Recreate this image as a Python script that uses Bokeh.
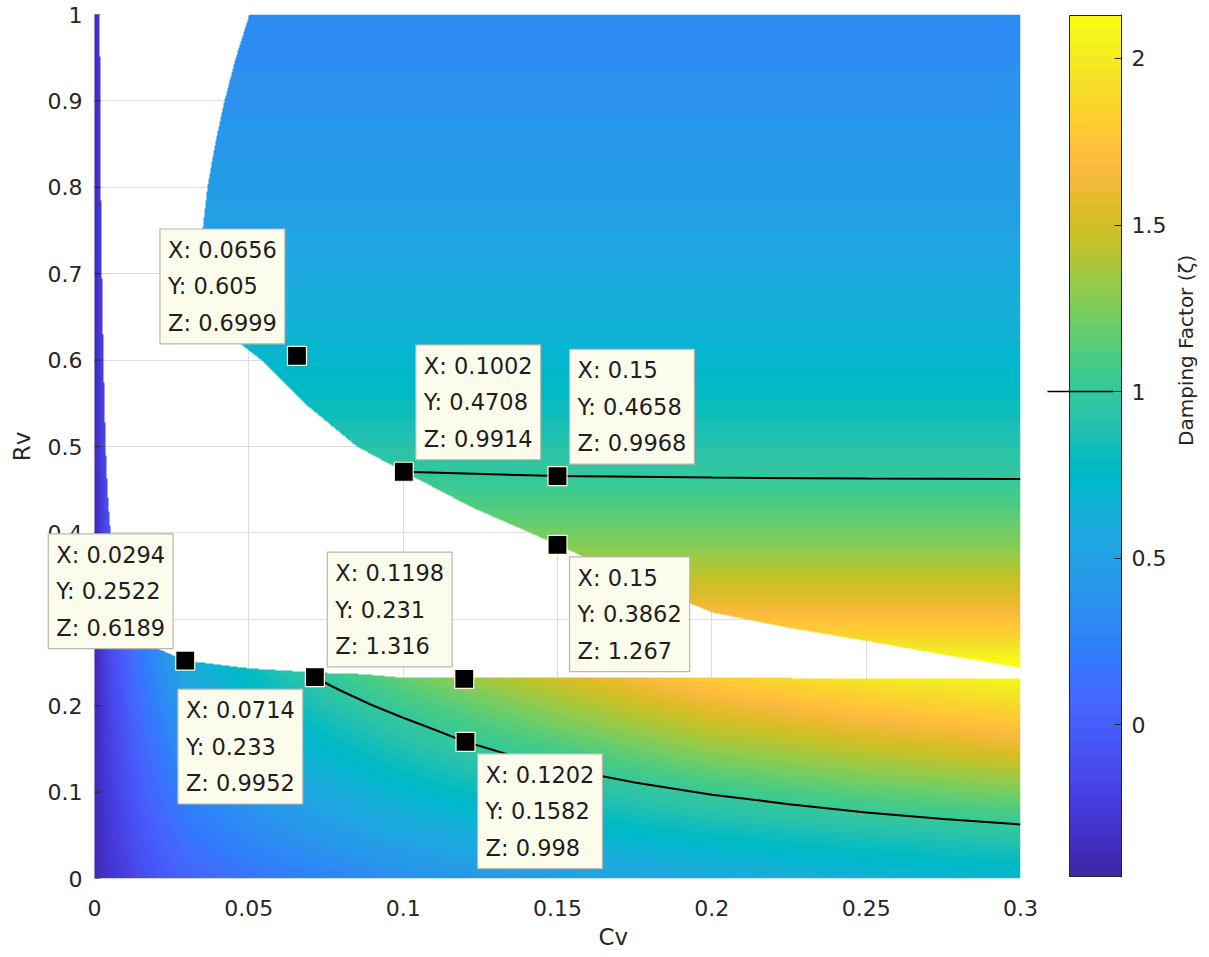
import math
import numpy as np
from bokeh.plotting import figure
from bokeh.layouts import row
from bokeh.models import LinearColorMapper, Range1d, FixedTicker, Label, Title
from bokeh.embed import file_html
from bokeh.resources import INLINE

# ---------------- data ----------------
# upper surface: left/lower boundary Cv as a function of Rv
ub_rv = [0.244, 0.259, 0.275, 0.29, 0.308, 0.345, 0.3862, 0.43, 0.4708, 0.50, 0.55, 0.60, 0.617, 0.64, 0.67, 0.70, 0.75, 0.80, 0.85, 0.90, 0.95, 1.00]
ub_cv = [0.300, 0.275, 0.250, 0.225, 0.200, 0.175, 0.1500, 0.122, 0.1002, 0.085, 0.068, 0.054, 0.048, 0.040, 0.0341, 0.0340, 0.0350, 0.0366, 0.0391, 0.0421, 0.0458, 0.0502]
# upper surface: damping factor vs Rv
up_rv = [0.244, 0.28, 0.32, 0.3862, 0.4658, 0.53, 0.605, 0.70, 0.80, 0.90, 1.00]
up_z = [2.17, 1.86, 1.59, 1.267, 0.997, 0.84, 0.70, 0.57, 0.46, 0.38, 0.31]

# lower surface: upper boundary Rv as a function of Cv
lb_cv = [0.0, 0.0017, 0.0020, 0.0023, 0.0029, 0.0036, 0.0042, 0.0052, 0.008, 0.012, 0.018, 0.0294, 0.0506, 0.0743, 0.087, 0.1, 0.3]
lb_rv = [1.0, 1.0, 0.82, 0.72, 0.60, 0.50, 0.45, 0.40, 0.35, 0.30, 0.27, 0.2522, 0.243, 0.238, 0.2365, 0.2325, 0.2318]
# lower surface: damping factor on a grid (rows = Rv, cols = Cv)
low_cv = [0.0, 0.005, 0.015, 0.03, 0.05, 0.075, 0.1, 0.12, 0.15, 0.2, 0.25, 0.3]
low_rv = [0.0, 0.05, 0.10, 0.15, 0.20, 0.25, 0.30, 0.40, 1.00]
z_rv000 = [-0.40, -0.30, -0.12, 0.05, 0.16, 0.27, 0.36, 0.42, 0.48, 0.57, 0.64, 0.70]
z_rv005 = [-0.40, -0.27, -0.06, 0.16, 0.30, 0.44, 0.54, 0.61, 0.68, 0.79, 0.87, 0.94]
z_rv010 = [-0.40, -0.24, 0.00, 0.27, 0.43, 0.59, 0.71, 0.79, 0.88, 1.03, 1.15, 1.24]
z_rv015 = [-0.40, -0.21, 0.06, 0.38, 0.56, 0.74, 0.88, 0.97, 1.09, 1.31, 1.45, 1.57]
z_rv020 = [-0.40, -0.18, 0.12, 0.49, 0.69, 0.89, 1.05, 1.16, 1.33, 1.60, 1.77, 1.89]
z_rv025 = [-0.40, -0.15, 0.18, 0.60, 0.82, 1.05, 1.24, 1.41, 1.60, 1.93, 2.10, 2.20]
z_rv030 = [-0.40, -0.12, 0.24, 0.70, 0.95, 1.20, 1.40, 1.60, 1.85, 2.10, 2.20, 2.20]
z_rv040 = [-0.40, -0.06, 0.36, 0.85, 1.10, 1.40, 1.70, 1.90, 2.10, 2.20, 2.20, 2.20]
z_rv100 = [-0.40, 0.00, 0.60, 1.00, 1.40, 1.80, 2.10, 2.20, 2.20, 2.20, 2.20, 2.20]

# Z = 1 contour lines
cu_cv = [0.1002, 0.15, 0.2, 0.25, 0.3]
cu_rv = [0.4708, 0.4658, 0.4640, 0.4630, 0.4625]
cl_cv = [0.0714, 0.075, 0.08, 0.09, 0.1, 0.11, 0.1202, 0.135, 0.15, 0.175, 0.2, 0.225, 0.25, 0.275, 0.3]
cl_rv = [0.233, 0.226, 0.217, 0.2005, 0.186, 0.1725, 0.1582, 0.1425, 0.1285, 0.111, 0.097, 0.086, 0.0765, 0.069, 0.0625]
contour_level = 1.0

# data tips
tip_x = [0.0656, 0.1002, 0.15, 0.15, 0.0294, 0.1198, 0.0714, 0.1202]
tip_y = [0.605, 0.4708, 0.4658, 0.3862, 0.2522, 0.231, 0.233, 0.1582]
tip_z = [0.6999, 0.9914, 0.9968, 1.267, 0.6189, 1.316, 0.9952, 0.998]
tip_side = ["ul", "ur", "ur", "lr", "ul", "ul", "ll", "lr"]

x_ticks = [0, 0.05, 0.1, 0.15, 0.2, 0.25, 0.3]
x_labels = ["0", "0.05", "0.1", "0.15", "0.2", "0.25", "0.3"]
y_ticks = [0, 0.1, 0.2, 0.3, 0.4, 0.5, 0.6, 0.7, 0.8, 0.9, 1]
y_labels = ["0", "0.1", "0.2", "0.3", "0.4", "0.5", "0.6", "0.7", "0.8", "0.9", "1"]
cb_ticks = [0, 0.5, 1, 1.5, 2]
cb_labels = ["0", "0.5", "1", "1.5", "2"]
c_low, c_high = -0.456, 2.129

# ---------------- colormap (parula, 64) ----------------
PARULA_RGB = [
    (0.2422, 0.1504, 0.6603), (0.2504, 0.1650, 0.7076), (0.2578, 0.1818, 0.7511), (0.2647, 0.1978, 0.7952),
    (0.2706, 0.2147, 0.8364), (0.2751, 0.2342, 0.8710), (0.2783, 0.2559, 0.8991), (0.2803, 0.2782, 0.9221),
    (0.2813, 0.3006, 0.9414), (0.2810, 0.3228, 0.9579), (0.2795, 0.3447, 0.9717), (0.2760, 0.3667, 0.9829),
    (0.2699, 0.3892, 0.9906), (0.2602, 0.4123, 0.9952), (0.2440, 0.4358, 0.9988), (0.2206, 0.4603, 0.9973),
    (0.1963, 0.4847, 0.9892), (0.1834, 0.5074, 0.9798), (0.1786, 0.5289, 0.9682), (0.1764, 0.5499, 0.9520),
    (0.1687, 0.5703, 0.9359), (0.1540, 0.5902, 0.9218), (0.1460, 0.6091, 0.9079), (0.1380, 0.6276, 0.8973),
    (0.1248, 0.6459, 0.8883), (0.1113, 0.6635, 0.8763), (0.0952, 0.6798, 0.8598), (0.0689, 0.6948, 0.8394),
    (0.0297, 0.7082, 0.8163), (0.0036, 0.7203, 0.7917), (0.0067, 0.7312, 0.7660), (0.0433, 0.7411, 0.7394),
    (0.0964, 0.7500, 0.7120), (0.1408, 0.7584, 0.6842), (0.1717, 0.7670, 0.6554), (0.1938, 0.7758, 0.6251),
    (0.2161, 0.7843, 0.5923), (0.2470, 0.7918, 0.5567), (0.2906, 0.7973, 0.5188), (0.3406, 0.8008, 0.4789),
    (0.3909, 0.8029, 0.4354), (0.4456, 0.8024, 0.3909), (0.5044, 0.7993, 0.3480), (0.5616, 0.7942, 0.3045),
    (0.6174, 0.7876, 0.2612), (0.6720, 0.7793, 0.2227), (0.7242, 0.7698, 0.1910), (0.7738, 0.7598, 0.1646),
    (0.8203, 0.7498, 0.1535), (0.8634, 0.7406, 0.1596), (0.9035, 0.7330, 0.1774), (0.9393, 0.7288, 0.2100),
    (0.9728, 0.7298, 0.2394), (0.9956, 0.7434, 0.2371), (0.9970, 0.7659, 0.2199), (0.9952, 0.7893, 0.2028),
    (0.9892, 0.8136, 0.1885), (0.9786, 0.8386, 0.1766), (0.9676, 0.8639, 0.1643), (0.9610, 0.8890, 0.1537),
    (0.9597, 0.9135, 0.1423), (0.9628, 0.9373, 0.1265), (0.9691, 0.9606, 0.1064), (0.9769, 0.9839, 0.0805),
]
PARULA = ["#%02x%02x%02x" % tuple(int(round(c * 255)) for c in rgb) for rgb in PARULA_RGB]
mapper = LinearColorMapper(palette=PARULA, low=c_low, high=c_high, nan_color=(0, 0, 0, 0))

# ---------------- build the surface image ----------------
NX, NY = 926, 864
cv = (np.arange(NX) + 0.5) / NX * x_ticks[-1]
rv = (np.arange(NY) + 0.5) / NY * y_ticks[-1]
CV, RV = np.meshgrid(cv, rv)
Z = np.full((NY, NX), np.nan, dtype=np.float32)

low_table = np.array([z_rv000, z_rv005, z_rv010, z_rv015, z_rv020, z_rv025, z_rv030, z_rv040, z_rv100])
rows_on_cv = np.array([np.interp(cv, low_cv, r) for r in low_table])
z_low = np.array([np.interp(rv, low_rv, rows_on_cv[:, j]) for j in range(NX)]).T
rv_top = np.interp(cv, lb_cv, lb_rv)
mask_low = RV <= rv_top[None, :]
Z[mask_low] = z_low[mask_low]

cv_left = np.interp(rv, ub_rv, ub_cv)
z_up = np.interp(rv, up_rv, up_z)
mask_up = (RV >= ub_rv[0]) & (CV >= cv_left[:, None])
Z[mask_up] = np.broadcast_to(z_up[:, None], Z.shape)[mask_up]

FONT = "DejaVu Sans"
TXT = "#262626"

# frame starts 49 px left of Cv = 0 so that a data tip can extend over the tick labels
PX_PER_CV = 926 / 0.3
EXTRA = 49
x_start = -EXTRA / PX_PER_CV

p = figure(frame_width=926 + EXTRA, frame_height=864, x_range=Range1d(x_start, 0.3), y_range=Range1d(0, 1),
           output_backend="svg", toolbar_location=None,
           min_border_left=94 - EXTRA, min_border_right=20, min_border_top=14, min_border_bottom=79)
p.background_fill_color = "white"
p.border_fill_color = "white"
p.outline_line_color = None

# white margin inside the frame, left of Cv = 0 (hides grid lines there)
p.quad(left=x_start, right=0, bottom=0, top=1, fill_color="white", line_color=None)
p.image(image=[Z], x=0, y=0, dw=0.3, dh=1.0, color_mapper=mapper)
# inward y tick marks at Cv = 0
p.ray(x=[0] * len(y_ticks), y=y_ticks, length=6, length_units="screen", angle=0, line_color=TXT, line_width=1)

p.line(cu_cv, cu_rv, line_color="black", line_width=2)
p.line(cl_cv, cl_rv, line_color="black", line_width=2)

p.scatter(tip_x, tip_y, marker="square", size=19, fill_color="black", line_color="#fffbd8", line_width=1.2)

p.grid.grid_line_color = "#dedede"
p.grid.grid_line_width = 1
p.xaxis.ticker = FixedTicker(ticks=x_ticks)
p.yaxis.ticker = FixedTicker(ticks=y_ticks)
p.xaxis.major_label_overrides = dict(zip(x_ticks, x_labels))
p.yaxis.major_label_overrides = dict(zip(y_ticks, y_labels))
p.axis.axis_line_color = None
p.axis.minor_tick_line_color = None
p.axis.major_tick_in = 0
p.axis.major_tick_out = 0
p.axis.major_label_text_font = FONT
p.axis.major_label_text_font_size = "22px"
p.axis.major_label_text_color = TXT
p.axis.axis_label_text_font = FONT
p.axis.axis_label_text_font_size = "23px"
p.axis.axis_label_text_font_style = "normal"
p.axis.axis_label_text_color = TXT
p.yaxis.axis_label = "Rv"
p.xaxis.major_label_standoff = 21
p.yaxis.major_label_standoff = -(EXTRA - 12)
p.yaxis.axis_label_standoff = 10
p.add_layout(Title(text="Cv", align="left", offset=598 - (94 - EXTRA), standoff=6,
                   text_font=FONT, text_font_size="23px", text_font_style="normal",
                   text_color=TXT), "below")

# data tips
GAP = 12
BOXW = 125
for x, y, z, side in zip(tip_x, tip_y, tip_z, tip_side):
    txt = f"X: {x:g}\nY: {y:g}\nZ: {z:g}"
    right = side[1] == "r"
    up = side[0] == "u"
    xo = GAP if right else -(GAP + BOXW)
    yo = GAP if up else -GAP
    lab = Label(x=x, y=y, x_offset=xo, y_offset=yo, text=txt,
                text_align="left", text_baseline="bottom" if up else "top",
                text_font=FONT, text_font_size="22.5px", text_color="#1e1e1e",
                text_line_height=1.4,
                background_fill_color="#fcfcec", background_fill_alpha=1.0,
                border_line_color="#b8b8b0", border_line_width=1.2, padding=8)
    p.add_layout(lab)

# ---------------- colorbar figure ----------------
pix = (c_high - c_low) / 861.0
p2 = figure(frame_width=81, frame_height=863, x_range=Range1d(0, 81),
            y_range=Range1d(c_low - pix, c_high + pix),
            output_backend="svg", toolbar_location=None,
            x_axis_location=None, y_axis_location="right",
            min_border_left=0, min_border_right=88, min_border_top=13, min_border_bottom=81)
p2.background_fill_color = "white"
p2.border_fill_color = "white"
p2.outline_line_color = None
p2.grid.visible = False
n = len(PARULA)
cb_vals = (c_low + (np.arange(n) + 0.5) * (c_high - c_low) / n).reshape(n, 1)
p2.image(image=[cb_vals], x=29, y=c_low, dw=52, dh=c_high - c_low, color_mapper=mapper)
p2.quad(left=29, right=81, bottom=c_low, top=c_high, fill_color=None, line_color=TXT, line_width=1)
p2.segment(x0=7, x1=73, y0=contour_level, y1=contour_level, line_color="black", line_width=1.5)
p2.yaxis.ticker = FixedTicker(ticks=cb_ticks)
p2.yaxis.major_label_overrides = dict(zip(cb_ticks, cb_labels))
p2.yaxis.axis_line_color = TXT
p2.yaxis.major_tick_in = 7
p2.yaxis.major_tick_out = 0
p2.yaxis.major_tick_line_color = TXT
p2.yaxis.minor_tick_line_color = None
p2.yaxis.major_label_text_font = FONT
p2.yaxis.major_label_text_font_size = "22px"
p2.yaxis.major_label_text_color = TXT
p2.yaxis.major_label_standoff = 10
p2.yaxis.axis_label = "Damping Factor (\u03b6)"
p2.yaxis.axis_label_orientation = math.pi / 2
p2.yaxis.axis_label_text_font = FONT
p2.yaxis.axis_label_text_font_size = "20px"
p2.yaxis.axis_label_text_font_style = "normal"
p2.yaxis.axis_label_text_color = TXT
p2.yaxis.axis_label_standoff = 17

layout = row(p, p2)
open("out.html", "w").write(file_html(layout, INLINE))
